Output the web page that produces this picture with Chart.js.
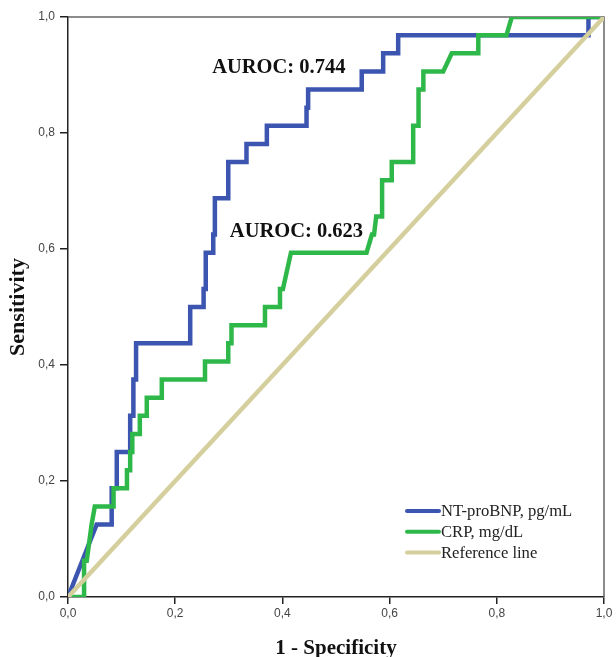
<!DOCTYPE html>
<html><head><meta charset="utf-8">
<script src="https://cdn.jsdelivr.net/npm/chart.js@4.4.1/dist/chart.umd.min.js"></script>
<style>html,body{margin:0;padding:0;background:#fff;}#wrap{width:616px;height:657px;position:relative;}</style>
</head><body><div id="wrap"><canvas id="c" width="616" height="657"></canvas></div>
<script>
// ---------- data ----------
const seriesNames = ['NT-proBNP, pg/mL', 'CRP, mg/dL', 'Reference line'];
const ntProBnpFpr  = [0, 0.0535, 0.0815, 0.0815, 0.091, 0.091, 0.116, 0.116, 0.122, 0.122, 0.127, 0.127, 0.228, 0.228, 0.253, 0.253, 0.257, 0.257, 0.271, 0.271, 0.274, 0.274, 0.299, 0.299, 0.333, 0.333, 0.371, 0.371, 0.445, 0.445, 0.448, 0.448, 0.548, 0.548, 0.588, 0.588, 0.616, 0.616, 0.971, 0.971, 1];
const ntProBnpSens = [0, 0.125, 0.125, 0.1875, 0.1875, 0.25, 0.25, 0.3125, 0.3125, 0.375, 0.375, 0.4375, 0.4375, 0.5, 0.5, 0.53125, 0.53125, 0.59375, 0.59375, 0.625, 0.625, 0.6875, 0.6875, 0.75, 0.75, 0.78125, 0.78125, 0.8125, 0.8125, 0.84375, 0.84375, 0.875, 0.875, 0.90625, 0.90625, 0.9375, 0.9375, 0.96875, 0.96875, 1, 1];
const crpFpr  = [0, 0.03, 0.03, 0.035, 0.044, 0.05, 0.085, 0.085, 0.11, 0.11, 0.116, 0.116, 0.12, 0.12, 0.134, 0.134, 0.147, 0.147, 0.175, 0.175, 0.2556, 0.2556, 0.299, 0.299, 0.305, 0.305, 0.3675, 0.3675, 0.3955, 0.3955, 0.401, 0.416, 0.557, 0.567, 0.571, 0.575, 0.586, 0.586, 0.604, 0.604, 0.644, 0.644, 0.654, 0.654, 0.663, 0.663, 0.700, 0.716, 0.7655, 0.7655, 0.818, 0.828, 1];
const crpSens = [0, 0, 0.0625, 0.0625, 0.125, 0.15625, 0.15625, 0.1875, 0.1875, 0.21875, 0.21875, 0.25, 0.25, 0.28125, 0.28125, 0.3125, 0.3125, 0.34375, 0.34375, 0.375, 0.375, 0.40625, 0.40625, 0.4375, 0.4375, 0.46875, 0.46875, 0.5, 0.5, 0.53125, 0.53125, 0.59375, 0.59375, 0.625, 0.625, 0.65625, 0.65625, 0.71875, 0.71875, 0.75, 0.75, 0.8125, 0.8125, 0.875, 0.875, 0.90625, 0.90625, 0.9375, 0.9375, 0.96875, 0.96875, 1, 1];
const refFpr  = [0, 1];
const refSens = [0, 1];
const aurocLabels = ['AUROC: 0.744', 'AUROC: 0.623'];
const aurocAnchorFpr  = [0.269, 0.302];
const aurocAnchorSens = [0.912, 0.629];
const tickValues = [0, 0.2, 0.4, 0.6, 0.8, 1.0];
const tickLabels = ['0,0', '0,2', '0,4', '0,6', '0,8', '1,0'];
const xTitle = '1 - Specificity';
const yTitle = 'Sensitivity';

// ---------- styles ----------
const colors = ['#3b55b1', '#2fb84a', '#d5cf9d'];
const toPts = (xs, ys) => xs.map((x, i) => ({x: x, y: ys[i]}));

const framePlugin = {
  id: 'frame',
  beforeDatasetsDraw(chart) {
    const {ctx, chartArea: a} = chart;
    ctx.save();
    ctx.strokeStyle = '#666';
    ctx.lineWidth = 1.5;
    ctx.beginPath();
    ctx.moveTo(a.left, a.top); ctx.lineTo(a.right, a.top); ctx.lineTo(a.right, a.bottom);
    ctx.stroke();
    ctx.restore();
  },
  afterDatasetsDraw(chart) {
    const {ctx, chartArea: a, scales} = chart;
    ctx.save();
    // AUROC annotations
    ctx.font = 'bold 20.5px "Liberation Serif"';
    ctx.fillStyle = '#111';
    ctx.textAlign = 'left';
    ctx.textBaseline = 'middle';
    aurocLabels.forEach((t, i) => {
      ctx.fillText(t, scales.x.getPixelForValue(aurocAnchorFpr[i]), scales.y.getPixelForValue(aurocAnchorSens[i]));
    });
    // legend
    const lx = a.right - 197, ly = a.bottom - 86, gap = 20.7;
    ctx.font = '16.6px "Liberation Serif"';
    ctx.fillStyle = '#222';
    seriesNames.forEach((n, i) => {
      const y = ly + i * gap;
      ctx.strokeStyle = colors[i];
      ctx.lineWidth = 4;
      ctx.lineCap = 'round';
      ctx.beginPath(); ctx.moveTo(lx, y); ctx.lineTo(lx + 32, y); ctx.stroke();
      ctx.fillText(n, lx + 34, y + 1);
    });
    ctx.restore();
  }
};

const tickCb = (v) => { const i = tickValues.findIndex(t => Math.abs(t - v) < 1e-6); return i >= 0 ? tickLabels[i] : ''; };
const axisCommon = {
  type: 'linear', min: 0, max: 1,
  afterBuildTicks: (s) => { s.ticks = tickValues.map(v => ({value: v})); },
  grid: {display: true, drawOnChartArea: false, drawTicks: true, tickColor: '#222', lineWidth: 1.5},
  border: {display: true, color: '#222', width: 1.5},
};

new Chart(document.getElementById('c'), {
  type: 'scatter',
  data: {
    datasets: [
      {label: seriesNames[2], data: toPts(refFpr, refSens), showLine: true, borderColor: colors[2], borderWidth: 4.5, pointRadius: 0, order: 0},
      {label: seriesNames[1], data: toPts(crpFpr, crpSens), showLine: true, borderColor: colors[1], borderWidth: 4.5, pointRadius: 0, order: 1, borderJoinStyle: 'miter'},
      {label: seriesNames[0], data: toPts(ntProBnpFpr, ntProBnpSens), showLine: true, borderColor: colors[0], borderWidth: 4.5, pointRadius: 0, order: 2, borderJoinStyle: 'miter'}
    ]
  },
  options: {
    responsive: false, animation: false, devicePixelRatio: 1,
    layout: {padding: {left: 0, top: 17, right: 12, bottom: 0}},
    plugins: {legend: {display: false}, tooltip: {enabled: false}},
    scales: {
      x: Object.assign({}, axisCommon, {
        position: 'bottom',
        afterFit: (s) => { s.height = 60; },
        grid: Object.assign({}, axisCommon.grid, {tickLength: 7}),
        ticks: {callback: tickCb, autoSkip: false, maxRotation: 0, padding: 2, color: '#444', font: {family: '"Liberation Sans"', size: 12}},
        title: {display: true, text: xTitle, color: '#111', font: {family: '"Liberation Serif"', size: 21, weight: 'bold', lineHeight: 1}, padding: {top: 0, bottom: -2}}
      }),
      y: Object.assign({}, axisCommon, {
        position: 'left',
        afterFit: (s) => { s.width = 68; },
        grid: Object.assign({}, axisCommon.grid, {tickLength: 8}),
        ticks: {callback: tickCb, autoSkip: false, padding: 5, color: '#444', font: {family: '"Liberation Sans"', size: 12}},
        title: {display: true, text: yTitle, color: '#111', font: {family: '"Liberation Serif"', size: 22, weight: 'bold', lineHeight: 1}, padding: {top: 7, bottom: 0}}
      })
    }
  },
  plugins: [framePlugin]
});
</script></body></html>
